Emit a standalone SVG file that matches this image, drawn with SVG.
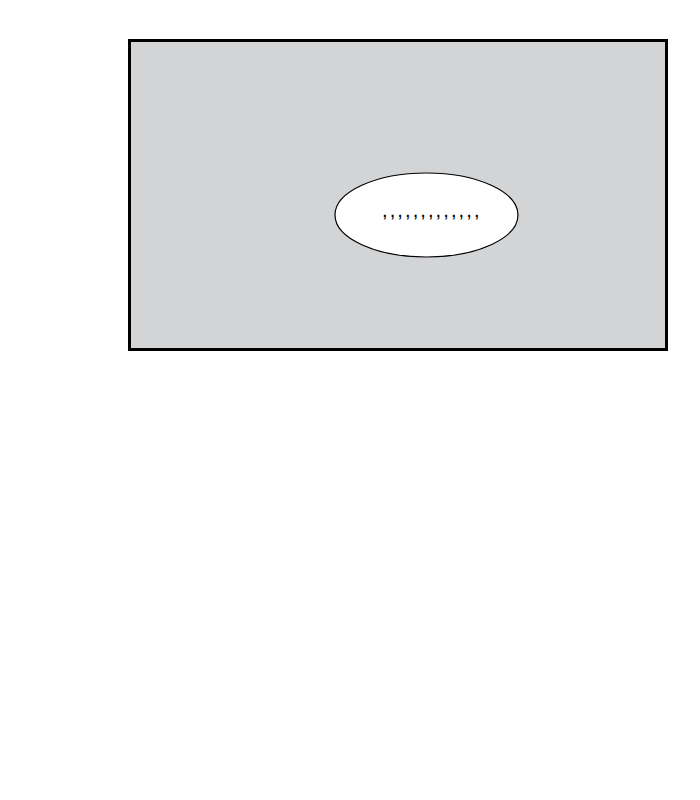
<svg xmlns="http://www.w3.org/2000/svg" width="700" height="800" viewBox="0 0 700 800">
<style>
.frame{fill:#d3d4d6;stroke:#000;stroke-width:3}
.node{fill:#fff;stroke:#000;stroke-width:1.2}
.lbl{font-family:"Liberation Sans",Arial,sans-serif;font-size:20px;fill:#000;letter-spacing:2.1px}
</style>
<rect width="700" height="800" fill="#fff"/>
<g id="container">
<rect class="frame" x="129.5" y="40.5" width="537" height="309"/>
</g>
<g id="node1">
<ellipse class="node" cx="426.5" cy="215" rx="91.5" ry="42"/>
<text class="lbl" x="382" y="217">,,,,,,,,,,,,,</text>
</g>
<g id="connectors"></g>
</svg>
